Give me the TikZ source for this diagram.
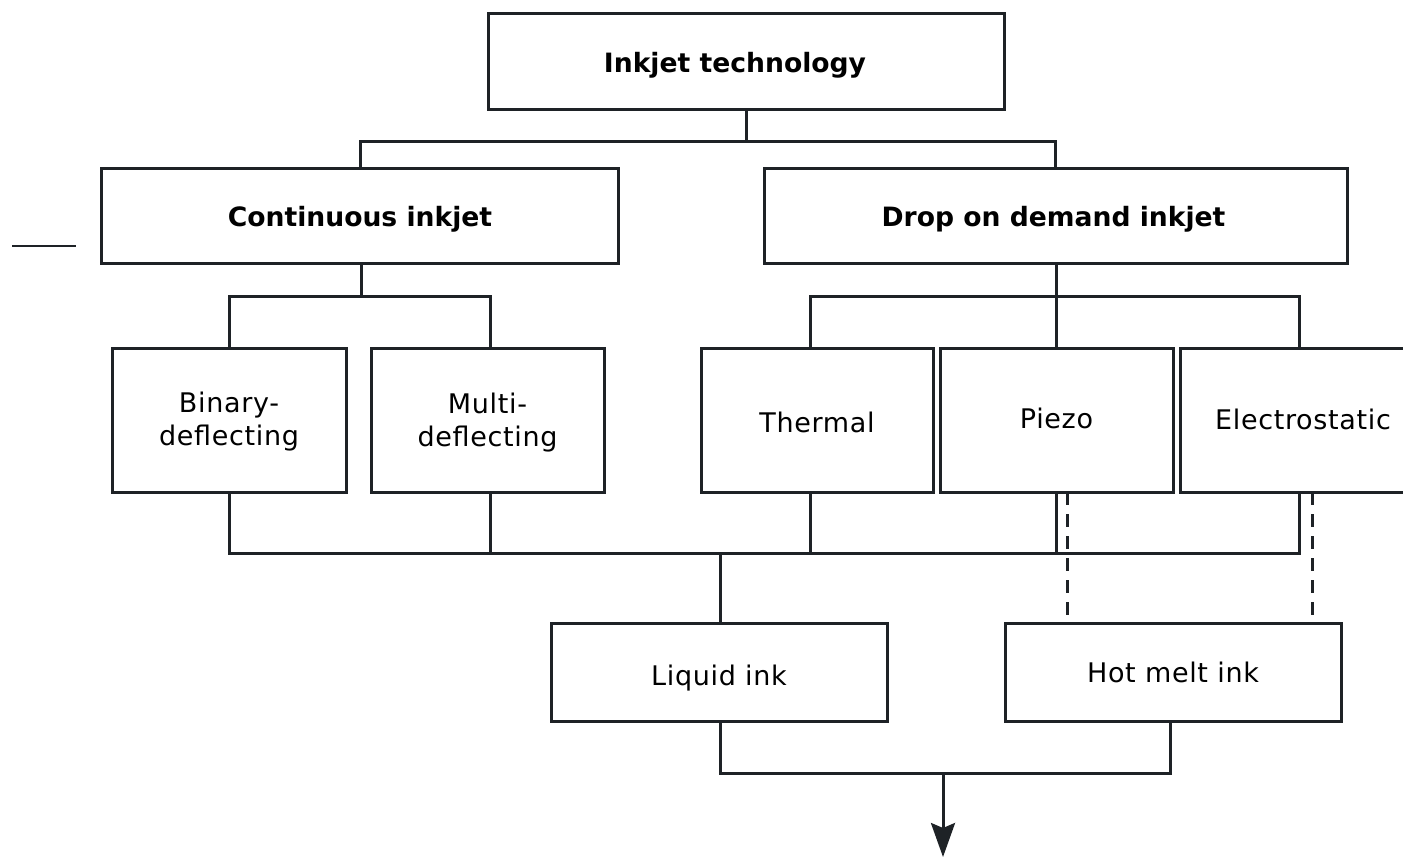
\documentclass[tikz,border=0pt]{standalone}
\usepackage{fontspec}
\setmainfont{DejaVu Sans}
\newfontfamily\regfont[LetterSpace=2.5]{DejaVu Sans}
\usetikzlibrary{arrows.meta}
\begin{document}
\begin{tikzpicture}[x=1pt,y=-1pt,
  line width=3pt, draw={rgb,255:red,30;green,34;blue,38},
  boxn/.style={draw, outer sep=0pt, inner sep=0pt, align=center, font=\regfont\fontsize{27}{33}\selectfont},
  boxb/.style={boxn, font=\fontsize{26.6}{31}\selectfont\bfseries},
  bl/.style={text height=#1, text depth=0pt},
  conn/.style={line width=3pt},
  dconn/.style={line width=3pt, dash pattern=on 13pt off 9pt}]
\useasboundingbox (0,0) rectangle (1403,857);
\begin{scope}
\clip (0,0) rectangle (1403,857);
\node[boxb, bl=22pt, minimum width=516pt, minimum height=96pt] (top) at (746,61) {Inkjet technology\hspace*{22pt}};
\node[boxb, bl=20pt, minimum width=517pt, minimum height=95pt] (cont) at (360,216) {Continuous inkjet};
\node[boxb, bl=21pt, minimum width=583pt, minimum height=95pt] (dod) at (1055.5,216) {Drop on demand inkjet\hspace*{4pt}};
\node[boxn, bl=50pt, minimum width=234pt, minimum height=144pt] (bin) at (229,420) {Binary-\\deflecting};
\node[boxn, bl=53pt, minimum width=233pt, minimum height=144pt] (multi) at (487.5,420) {Multi-\\deflecting};
\node[boxn, bl=24pt, minimum width=232pt, minimum height=144pt] (therm) at (817,420) {Thermal};
\node[boxn, bl=16pt, minimum width=233pt, minimum height=144pt] (piezo) at (1056.5,420) {Piezo};
\node[boxn, bl=18pt, minimum width=238pt, minimum height=144pt] (elec) at (1299,420) {\hspace*{8pt}Electrostatic};
\node[boxn, bl=26pt, minimum width=336pt, minimum height=98pt] (liq) at (719,672) {Liquid ink};
\node[boxn, bl=20pt, minimum width=336pt, minimum height=98pt] (hot) at (1173,672) {Hot melt ink};

\coordinate (j1) at (746,141);
\coordinate (j2) at (361,296);
\coordinate (j3) at (1056,296);
\coordinate (bus) at (720,553);
\coordinate (bot) at (943,773);
\coordinate (arrend) at (943,857);
\coordinate (strayA) at (12,246);
\coordinate (strayB) at (76,246);

\draw[conn] (top.south) -- (j1);
\draw[conn] (cont.north) |- (j1) -| (dod.north);

\draw[conn] (cont.south -| j2) -- (j2);
\draw[conn] (bin.north) |- (j2) -| ([xshift=2.5pt]multi.north);

\draw[conn] (dod.south -| j3) -- (j3);
\draw[conn] ([xshift=-7pt]therm.north) |- (j3) -| (elec.north);
\draw[conn] (piezo.north -| j3) -- (j3);

\draw[conn] (bin.south) |- (bus) -| (elec.south);
\draw[conn] ([xshift=2.5pt]multi.south) -- ([xshift=2.5pt]multi.south |- bus);
\draw[conn] ([xshift=-7pt]therm.south) -- ([xshift=-7pt]therm.south |- bus);
\draw[conn] (piezo.south -| j3) -- (j3 |- bus);
\draw[conn] (bus) -- (liq.north -| bus);

\draw[dconn] ([xshift=10.5pt]piezo.south) -- ([xshift=10.5pt]piezo.south |- hot.north);
\draw[dconn] ([xshift=13pt]elec.south) -- ([xshift=13pt]elec.south |- hot.north);

\draw[conn] (liq.south -| bus) |- (bot) -| ([xshift=-3pt]hot.south);
\draw[conn, -{Stealth[length=34pt, width=24pt, inset=5pt]}] (bot) -- (arrend);

\draw[line width=2pt] (strayA) -- (strayB);
\end{scope}
\end{tikzpicture}
\end{document}
